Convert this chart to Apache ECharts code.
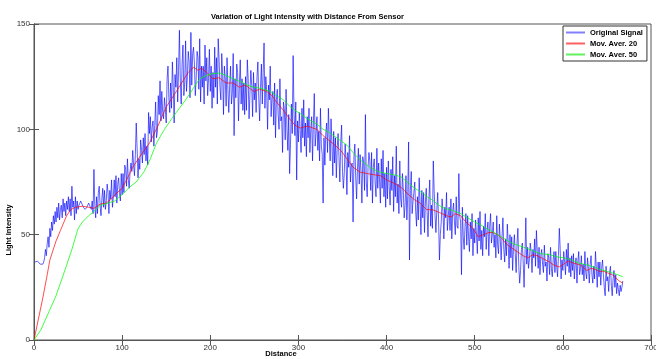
<!DOCTYPE html>
<html>
<head>
<meta charset="utf-8">
<script src="https://cdn.jsdelivr.net/npm/echarts@6/dist/echarts.min.js"></script>
<style>
  html, body {margin: 0; padding: 0; background: #fff;}
  #chart {width: 656px; height: 359px;}
</style>
</head>
<body>
<div id="chart"></div>
<script>
// raw light intensity, one sample per unit of distance (x = 1..668)
const signal = [
  37, 37.5, 37.6, 37.4, 37, 36.5, 36, 35.6, 35.5, 36,
  37, 39, 43, 40, 46, 49, 44, 53, 49, 56,
  52, 59, 55, 61, 56, 63, 58, 65, 57, 62,
  64, 58, 67, 61, 65, 59, 66, 62, 68, 61,
  67, 59, 73, 63, 66, 57, 68, 60, 66, 62,
  64, 65, 66, 65, 64, 63, 63, 62, 62, 63,
  64, 65, 64, 63, 62, 66, 60, 81, 64, 58,
  68, 60, 70, 73, 64, 59, 67, 72, 63, 71,
  62, 66, 74, 70, 60, 71, 67, 76, 63, 68,
  76, 68, 78, 65, 74, 77, 70, 66, 79, 69,
  79, 70, 83, 81, 73, 86, 76, 72, 80, 84,
  80, 90, 83, 78, 88, 103, 91, 77, 86, 81,
  95, 90, 84, 96, 88, 98, 85, 92, 83, 108,
  98, 106, 94, 101, 104, 92, 102, 113, 96, 99,
  116, 107, 123, 104, 118, 108, 105, 115, 110, 103,
  124, 130, 115, 108, 122, 110, 132, 120, 103, 126,
  120, 134, 113, 128, 147, 123, 112, 131, 140, 116,
  122, 142, 118, 125, 137, 132, 115, 146, 121, 136,
  139, 131, 116, 124, 137, 134, 119, 143, 113, 130,
  120, 130, 112, 140, 123, 134, 116, 124, 138, 118,
  130, 110, 127, 115, 139, 120, 134, 112, 143, 133,
  120, 114, 136, 126, 107, 130, 124, 111, 134, 119,
  108, 121, 130, 112, 117, 136, 97, 124, 115, 131,
  127, 104, 121, 133, 112, 124, 109, 122, 107, 125,
  109, 133, 124, 105, 117, 128, 121, 106, 127, 114,
  122, 108, 125, 132, 115, 104, 120, 131, 112, 127,
  141, 110, 125, 118, 100, 121, 114, 130, 106, 115,
  118, 102, 122, 96, 114, 119, 107, 100, 124, 104,
  106, 89, 113, 110, 95, 119, 100, 90, 107, 79,
  93, 112, 98, 135, 107, 97, 113, 76, 104, 94,
  108, 100, 89, 110, 96, 114, 92, 103, 87, 106,
  96, 110, 89, 100, 106, 85, 103, 117, 92, 98,
  106, 90, 99, 85, 110, 92, 88, 65, 96, 83,
  98, 103, 89, 110, 96, 85, 105, 93, 78, 99,
  84, 96, 77, 91, 98, 87, 75, 94, 102, 80,
  72, 79, 93, 86, 69, 89, 82, 97, 75, 83,
  84, 56, 87, 93, 77, 67, 81, 91, 74, 88,
  80, 65, 87, 84, 71, 107, 75, 68, 82, 89,
  85, 71, 89, 65, 82, 86, 75, 68, 91, 72,
  84, 76, 65, 86, 72, 90, 68, 79, 63, 82,
  67, 85, 73, 64, 81, 71, 87, 61, 78, 68,
  92, 65, 74, 60, 85, 67, 63, 79, 71, 58,
  64, 78, 57, 68, 94, 38, 71, 80, 60, 66,
  70, 75, 61, 54, 68, 57, 77, 65, 50, 71,
  58, 70, 51, 65, 72, 61, 49, 67, 76, 54,
  64, 53, 85, 71, 59, 51, 62, 70, 57, 38,
  50, 56, 67, 61, 48, 63, 58, 70, 52, 59,
  63, 52, 67, 48, 61, 65, 56, 50, 68, 54,
  53, 79, 59, 56, 31, 63, 49, 43, 54, 60,
  45, 59, 49, 42, 56, 48, 60, 40, 53, 46,
  57, 50, 41, 58, 47, 61, 43, 52, 40, 54,
  49, 60, 43, 52, 56, 40, 54, 60, 46, 50,
  56, 44, 50, 39, 59, 45, 41, 55, 48, 38,
  49, 58, 43, 37, 48, 40, 55, 46, 34, 50,
  39, 49, 33, 44, 50, 41, 32, 46, 53, 35,
  27, 33, 43, 46, 37, 25, 40, 58, 36, 44,
  34, 38, 46, 42, 32, 43, 39, 48, 35, 52,
  42, 34, 44, 31, 40, 43, 36, 32, 45, 35,
  37, 28, 41, 39, 31, 44, 34, 30, 38, 42,
  32, 42, 35, 30, 40, 53, 43, 29, 38, 33,
  42, 37, 31, 43, 35, 46, 32, 39, 30, 40,
  33, 41, 29, 36, 39, 27, 37, 42, 31, 34,
  40, 31, 36, 28, 42, 32, 29, 39, 34, 27,
  36, 40, 31, 27, 35, 29, 42, 34, 25, 37,
  30, 37, 26, 34, 38, 31, 25, 21, 35, 28,
  30, 23, 32, 35, 26, 21, 29, 33, 25, 31,
  22, 27, 24, 21, 26, 23, 25, 28
];

// moving averages as [distance, intensity]
const movAver20 = [
  [0, 0], [5, 10], [10, 20], [15, 31], [18, 38], [25, 47], [30, 52], [37, 59], [42, 62], [47, 63],
  [55, 63.5], [62, 63], [68, 62.5], [75, 64.5], [82, 65], [88, 67], [92, 69], [100, 72], [105, 76],
  [112, 82], [120, 87], [131, 93.5], [140, 101], [150, 110.6], [160, 117], [169, 123], [175, 127],
  [181, 129.5], [186, 128], [190, 129], [196, 127], [203, 124], [210, 124.5], [218, 122], [226, 122],
  [233, 120], [240, 121], [249, 118], [256, 119], [264, 118], [270, 116], [275, 113], [283, 109],
  [290, 105], [296, 102], [302, 100.6], [310, 101.5], [321, 100], [328, 97], [334, 95], [340, 93],
  [348, 90], [355, 86], [362, 82], [370, 79.7], [378, 79], [385, 78.5], [393, 78], [400, 76],
  [408, 74.5], [416, 72.6], [425, 69], [432, 66.5], [438, 65], [445, 62], [453, 61.7], [460, 60.5],
  [468, 59], [473, 58.4], [478, 60], [484, 59], [490, 56], [498, 53], [504, 49], [510, 50], [516, 51],
  [521, 51], [528, 49.5], [536, 45.6], [541, 44], [548, 42], [555, 40], [560, 39], [566, 40.5],
  [571, 40], [578, 38.5], [585, 37], [590, 35.5], [596, 34.7], [601, 36], [606, 37.5], [612, 36.5],
  [620, 35.6], [627, 33], [632, 34], [637, 33.5], [642, 32.5], [646, 32.7], [651, 31.8], [656, 31],
  [660, 29.5], [664, 28], [668, 27]
];

const movAver50 = [
  [0, 0], [8, 5], [17.6, 14], [25, 21], [30, 27], [36.6, 35], [43, 43], [49.8, 52.7], [55, 56],
  [62, 59], [68, 61], [74.5, 63.7], [84, 65], [91.6, 66], [100, 69], [108.6, 72.6], [116, 75],
  [125, 80], [132, 86], [139, 93.5], [148, 100], [157.8, 106], [165, 110], [172, 114], [177, 117],
  [183, 121], [188, 124], [195, 125.5], [203, 126.5], [211, 126.7], [218, 125.5], [226, 124],
  [235, 122.5], [242, 121], [249, 120], [257, 119.5], [268, 118], [275, 116], [283, 114], [290, 111],
  [296, 109], [302, 107.5], [310, 105], [321, 102.5], [328, 100], [334, 98.8], [345, 95.5],
  [355, 92.5], [362, 89], [370, 85.5], [381, 82], [390, 80], [400, 79], [408, 78.5], [416, 77.5],
  [425, 74.5], [432, 72], [438.6, 70.4], [446, 68], [452, 66.5], [459, 64], [466, 62.5], [475, 61.5],
  [484, 60], [492, 58], [500, 56], [507, 54.6], [515, 52.5], [522, 51], [530, 49], [538, 47],
  [545, 45.5], [556, 44], [565, 42.5], [575, 41], [585, 40.5], [593, 39.5], [601, 39], [610, 38],
  [618, 36.5], [628, 35.6], [636, 34.5], [642, 33.5], [647, 33], [655, 32], [662, 31], [668, 30]
];

const xTicks = {min: 0, max: 700, step: 100};
const yTicks = {min: 0, max: 150, step: 50};

const chart = echarts.init(document.getElementById('chart'));

const tickFont = {color: '#333', fontSize: 8, fontFamily: 'Liberation Sans, Arial, sans-serif'};
const boldFont = {color: '#000', fontSize: 7.5, fontWeight: 'bold', fontFamily: 'Liberation Sans, Arial, sans-serif'};

const axisCommon = {
  type: 'value',
  axisLine: {show: true, lineStyle: {color: '#555', width: 1}},
  axisTick: {show: true, inside: true, length: 5, lineStyle: {color: '#555'}},
  splitLine: {show: false}
};

chart.setOption({
  animation: false,
  backgroundColor: '#fff',
  grid: {
    left: 34, right: 5, top: 24, bottom: 19,
    containLabel: false, outerBoundsMode: 'none',
    show: true, borderColor: '#555', borderWidth: 1
  },
  title: {
    text: 'Variation of Light Intensity with Distance From Sensor',
    left: 206, top: 8,
    textStyle: {...boldFont}
  },
  legend: {
    orient: 'vertical',
    left: 563, top: 26,
    padding: [2, 4, 2, 3],
    itemGap: 2,
    itemWidth: 19, itemHeight: 2,
    icon: 'rect',
    backgroundColor: '#fff',
    borderColor: '#333', borderWidth: 1, borderRadius: 0,
    textStyle: {...boldFont, lineHeight: 9},
    data: ['Original Signal', 'Mov. Aver. 20', 'Mov. Aver. 50']
  },
  graphic: [
    {
      type: 'text',
      x: 9, y: 230,
      rotation: Math.PI / 2,
      style: {text: 'Light Intensity', ...boldFont, fill: '#000', align: 'center', verticalAlign: 'middle'}
    },
    {
      type: 'text',
      x: 281, y: 354,
      style: {text: 'Distance', ...boldFont, fill: '#000', align: 'center', verticalAlign: 'middle'}
    }
  ],
  xAxis: [
    {
      ...axisCommon, position: 'bottom',
      min: xTicks.min, max: xTicks.max, interval: xTicks.step,
      axisLabel: {...tickFont, margin: 4}
    },
    {
      ...axisCommon, position: 'top',
      min: xTicks.min, max: xTicks.max, interval: xTicks.step,
      axisLabel: {show: false}
    }
  ],
  yAxis: [
    {
      ...axisCommon, position: 'left',
      min: yTicks.min, max: yTicks.max, interval: yTicks.step,
      axisLabel: {...tickFont, margin: 4}
    },
    {
      ...axisCommon, position: 'right',
      min: yTicks.min, max: yTicks.max, interval: yTicks.step,
      axisLabel: {show: false}
    }
  ],
  series: [
    {
      name: 'Original Signal',
      type: 'line',
      data: signal.map((v, i) => [i + 1, v]),
      showSymbol: false,
      symbol: 'none',
      itemStyle: {color: '#8080ff'},
      lineStyle: {color: '#0000ff', width: 1, opacity: 0.62}
    },
    {
      name: 'Mov. Aver. 20',
      type: 'line',
      data: movAver20,
      showSymbol: false,
      symbol: 'none',
      itemStyle: {color: '#ff6060'},
      lineStyle: {color: '#ff0000', width: 1, opacity: 0.7}
    },
    {
      name: 'Mov. Aver. 50',
      type: 'line',
      data: movAver50,
      showSymbol: false,
      symbol: 'none',
      itemStyle: {color: '#60f060'},
      lineStyle: {color: '#00ff00', width: 1, opacity: 0.75}
    }
  ]
});
</script>
</body>
</html>
